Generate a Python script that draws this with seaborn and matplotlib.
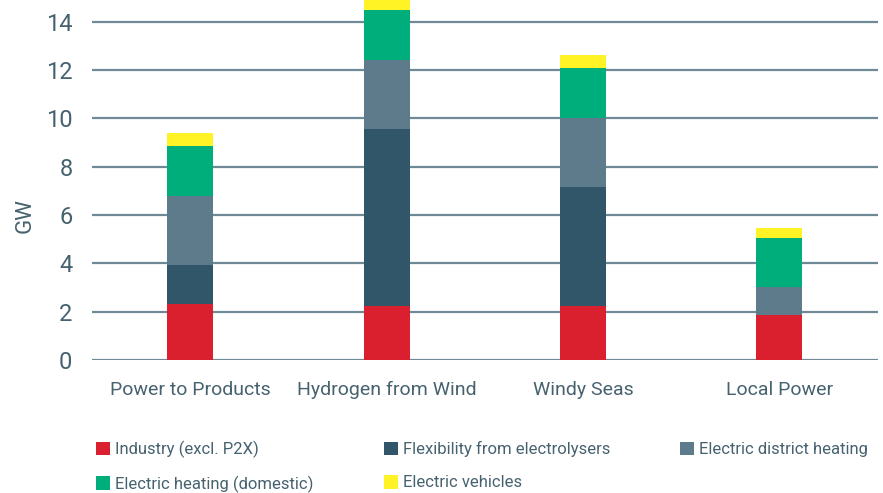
import matplotlib
matplotlib.use("Agg")
import matplotlib.pyplot as plt
from matplotlib.patches import Patch
import seaborn as sns
import pandas as pd

# Scenario capacities in GW, one list per demand category
scenarios = ["Power to Products", "Hydrogen from Wind", "Windy Seas", "Local Power"]
industry = [2.33, 2.25, 2.25, 1.86]
flexibility = [1.60, 7.31, 4.91, 0.00]
district_heating = [2.86, 2.85, 2.85, 1.16]
domestic_heating = [2.06, 2.07, 2.07, 2.03]
vehicles = [0.54, 0.50, 0.54, 0.41]

categories = [
    "Industry (excl. P2X)",
    "Flexibility from electrolysers",
    "Electric district heating",
    "Electric heating (domestic)",
    "Electric vehicles",
]
colors = ["#da1f2e", "#31566a", "#5e7b8b", "#00ae7c", "#fff225"]
y_ticks = [0, 2, 4, 6, 8, 10, 12, 14]

series = [industry, flexibility, district_heating, domestic_heating, vehicles]
rows = []
for cat, vals in zip(categories, series):
    for sc, v in zip(scenarios, vals):
        rows.append({"scenario": sc, "category": cat, "GW": v})
df = pd.DataFrame(rows)

sns.set_theme(style="white")
plt.rcParams["font.family"] = ["Roboto", "DejaVu Sans"]
text_color = "#46626f"
grid_color = "#6f8997"

fig = plt.figure(figsize=(8.83, 4.93), dpi=100)
ax = fig.add_axes([0.104, 0.270, 0.890, 0.730])

# histplot stacks the first hue level on top, so feed the order reversed
sns.histplot(
    data=df, x="scenario", weights="GW", hue="category",
    hue_order=categories[::-1], palette=colors[::-1],
    multiple="stack", discrete=True, shrink=0.234,
    alpha=1, linewidth=0, legend=False, ax=ax, zorder=3,
)

ax.set_xlim(-0.5, 3.5)
ax.set_ylim(0, 14.9)
ax.set_yticks(y_ticks)
ax.set_xticks(range(len(scenarios)))
ax.set_xticklabels(scenarios)
for y in y_ticks:
    ax.axhline(y, color=grid_color, lw=1.6, zorder=1)
for s in ax.spines.values():
    s.set_visible(False)
ax.tick_params(axis="y", length=0, pad=14, labelsize=17, labelcolor=text_color)
ax.tick_params(axis="x", length=0, pad=15, labelsize=14, labelcolor=text_color)
ax.set_xlabel("")
ax.set_ylabel("GW", fontsize=16, color=text_color)
ax.yaxis.set_label_coords(-0.072, 0.40)

# Legend laid out column by column to read row-wise
order = [0, 3, 1, 4, 2]
handles = [Patch(facecolor=colors[i], edgecolor="none") for i in order]
labels = [categories[i] for i in order]
leg = fig.legend(
    handles, labels, ncol=3, loc="lower left", bbox_to_anchor=(0.092, -0.030),
    frameon=False, fontsize=12, handlelength=0.85, handleheight=0.9,
    handletextpad=0.3, columnspacing=4.2, labelspacing=1.05,
)
for t in leg.get_texts():
    t.set_color(text_color)

fig.savefig("out.png", dpi=100)
